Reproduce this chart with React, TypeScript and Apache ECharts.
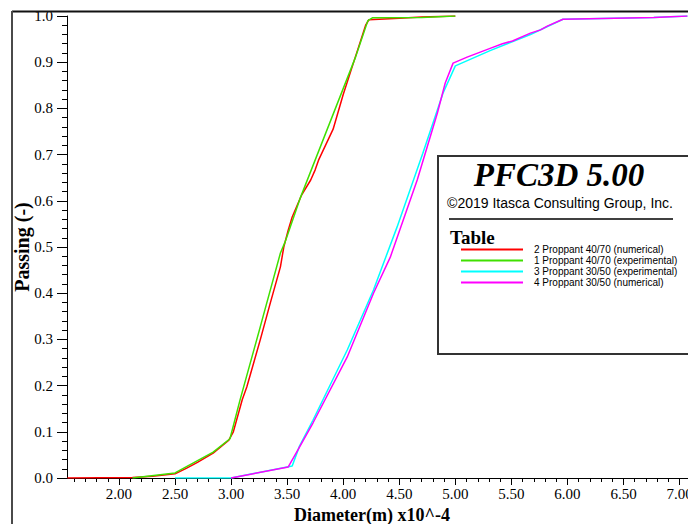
import React, { useEffect, useRef } from 'react';
import * as echarts from 'echarts';

// ---- data ----
const seriesNames = [
  '2 Proppant 40/70 (numerical)',
  '1 Proppant 40/70 (experimental)',
  '3 Proppant 30/50 (experimental)',
  '4 Proppant 30/50 (numerical)',
];
const seriesColors = ['#ff0000', '#40e000', '#00ffff', '#ff00ff'];

const proppant4070Numerical: [number, number][] = [
  [1.54, 0.0], [2.12, 0.001], [2.3, 0.004], [2.5, 0.009], [2.6, 0.021], [2.7, 0.034],
  [2.84, 0.054], [2.98, 0.082], [3.02, 0.1], [3.1, 0.17], [3.14, 0.197], [3.26, 0.299],
  [3.35, 0.379], [3.44, 0.457], [3.47, 0.5], [3.51, 0.537], [3.545, 0.565], [3.63, 0.613],
  [3.71, 0.645], [3.75, 0.667], [3.78, 0.688], [3.91, 0.755], [4.0, 0.83], [4.1, 0.905],
  [4.2, 0.98], [4.23, 0.992], [4.5, 0.995], [4.7, 0.998], [5.0, 1.0],
];
const proppant4070Experimental: [number, number][] = [
  [2.12, 0.0], [2.5, 0.011], [2.84, 0.056], [2.99, 0.085], [3.08, 0.169], [3.26, 0.327],
  [3.44, 0.487], [3.48, 0.51], [3.62, 0.608], [4.11, 0.911], [4.22, 0.99], [4.26, 0.996],
  [4.7, 0.997], [5.0, 1.0],
];
const proppant3050Experimental: [number, number][] = [
  [2.5, 0.0], [3.0, 0.0], [3.545, 0.026], [3.61, 0.069], [3.73, 0.125], [4.036, 0.277],
  [4.27, 0.407], [4.48, 0.543], [4.71, 0.703], [4.89, 0.833], [5.0, 0.892], [5.31, 0.925],
  [5.67, 0.96], [5.96, 0.993], [6.77, 0.997], [7.07, 1.0],
];
const proppant3050Numerical: [number, number][] = [
  [3.0, 0.0], [3.51, 0.024], [3.61, 0.067], [3.73, 0.119], [4.036, 0.262], [4.27, 0.4],
  [4.42, 0.478], [4.66, 0.645], [4.84, 0.79], [4.91, 0.855], [4.98, 0.898], [5.105, 0.911],
  [5.31, 0.93], [5.42, 0.94], [5.51, 0.946], [5.67, 0.963], [5.76, 0.97], [5.82, 0.978],
  [5.96, 0.993], [6.77, 0.997], [7.07, 1.0],
];
const seriesData = [
  proppant4070Numerical,
  proppant4070Experimental,
  proppant3050Experimental,
  proppant3050Numerical,
];

const xMajorTicks = [2.0, 2.5, 3.0, 3.5, 4.0, 4.5, 5.0, 5.5, 6.0, 6.5, 7.0];
const xMinorTicks = [
  1.6, 1.7, 1.8, 1.9, 2.0, 2.1, 2.2, 2.3, 2.4, 2.5, 2.6, 2.7, 2.8, 2.9, 3.0, 3.1, 3.2, 3.3,
  3.4, 3.5, 3.6, 3.7, 3.8, 3.9, 4.0, 4.1, 4.2, 4.3, 4.4, 4.5, 4.6, 4.7, 4.8, 4.9, 5.0, 5.1,
  5.2, 5.3, 5.4, 5.5, 5.6, 5.7, 5.8, 5.9, 6.0, 6.1, 6.2, 6.3, 6.4, 6.5, 6.6, 6.7, 6.8, 6.9,
  7.0, 7.1,
];
const xMin = 1.5365;
const xMax = 7.2;
const yMin = 0;
const yMax = 1;
const yStep = 0.1;

const titleText = 'PFC3D 5.00';
const copyrightText = '\u00a92019 Itasca Consulting Group, Inc.';
const tableText = 'Table';
const xAxisTitle = 'Diameter(m) x10^-4';
const yAxisTitle = 'Passing (-)';

const SERIF = '"Liberation Serif", "Times New Roman", serif';
const SANS = '"Liberation Sans", Arial, sans-serif';

export default function App() {
  const ref = useRef<HTMLDivElement>(null);

  useEffect(() => {
    if (!ref.current) return;
    const chart = echarts.init(ref.current, undefined, { renderer: 'svg' });
    const option: any = {
      animation: false,
      backgroundColor: '#ffffff',
      grid: {
        left: 67,
        top: 16,
        width: 635,
        height: 462,
        containLabel: false,
        outerBoundsMode: 'none',
      },
      xAxis: [
        {
          type: 'value',
          min: xMin,
          max: xMax,
          position: 'bottom',
          name: xAxisTitle,
          nameLocation: 'middle',
          nameGap: 27,
          nameTextStyle: {
            fontFamily: SERIF,
            fontWeight: 'bold',
            fontSize: 18,
            color: '#000',
            padding: [0, 25, 0, 0],
          },
          axisLine: { show: true, lineStyle: { color: '#000', width: 1 } },
          axisTick: { show: true, length: 7, customValues: xMajorTicks, lineStyle: { color: '#000' } },
          axisLabel: {
            show: true,
            customValues: xMajorTicks,
            formatter: (v: number) => v.toFixed(2),
            fontFamily: SERIF,
            fontSize: 15,
            color: '#000',
            margin: 8,
          },
          splitLine: { show: false },
        },
        {
          type: 'value',
          min: xMin,
          max: xMax,
          position: 'bottom',
          axisLine: { show: false },
          axisTick: { show: true, length: 4, customValues: xMinorTicks, lineStyle: { color: '#000' } },
          axisLabel: { show: false },
          splitLine: { show: false },
        },
      ],
      yAxis: {
        type: 'value',
        min: yMin,
        max: yMax,
        interval: yStep,
        name: yAxisTitle,
        nameLocation: 'middle',
        nameGap: 35,
        nameMoveOverlap: false,
        nameTextStyle: { fontFamily: SERIF, fontWeight: 'bold', fontSize: 20, color: '#000' },
        axisLine: { show: true, lineStyle: { color: '#000', width: 1 } },
        axisTick: { show: true, length: 10, lineStyle: { color: '#000' } },
        minorTick: { show: true, splitNumber: 5, length: 5, lineStyle: { color: '#000' } },
        axisLabel: {
          formatter: (v: number) => v.toFixed(1),
          fontFamily: SERIF,
          fontSize: 15,
          color: '#000',
          margin: 14,
        },
        splitLine: { show: false },
        minorSplitLine: { show: false },
      },
      legend: {
        orient: 'vertical',
        left: 461,
        top: 244,
        padding: 0,
        itemGap: 0,
        itemWidth: 62,
        itemHeight: 2,
        icon: 'rect',
        z: 120,
        selectedMode: false,
        textStyle: {
          fontFamily: SANS,
          fontSize: 10,
          lineHeight: 11,
          color: '#000',
          padding: [0, 0, 0, 6],
        },
        data: seriesNames,
      },
      series: seriesNames.map((name, i) => ({
        name,
        type: 'line',
        xAxisIndex: 0,
        data: seriesData[i],
        showSymbol: false,
        symbol: 'none',
        color: seriesColors[i],
        lineStyle: { color: seriesColors[i], width: 1.5 },
        z: 2 + i,
      })),
      graphic: [
        {
          type: 'rect',
          z: 100,
          shape: { x: 438, y: 156, width: 262, height: 198 },
          style: { fill: '#ffffff', stroke: '#333333', lineWidth: 2 },
        },
        {
          type: 'text',
          z: 101,
          x: 559,
          y: 175,
          style: {
            text: titleText,
            fontFamily: SERIF,
            fontStyle: 'italic',
            fontWeight: 'bold',
            fontSize: 33,
            fill: '#000',
            align: 'center',
            verticalAlign: 'middle',
          },
        },
        {
          type: 'text',
          z: 101,
          x: 560,
          y: 203,
          style: {
            text: copyrightText,
            fontFamily: SANS,
            fontSize: 14,
            fill: '#000',
            align: 'center',
            verticalAlign: 'middle',
          },
        },
        {
          type: 'line',
          z: 101,
          shape: { x1: 449, y1: 219, x2: 673, y2: 219 },
          style: { stroke: '#000', lineWidth: 1.5 },
        },
        {
          type: 'text',
          z: 101,
          x: 450,
          y: 237,
          style: {
            text: tableText,
            fontFamily: SERIF,
            fontWeight: 'bold',
            fontSize: 19,
            fill: '#000',
            align: 'left',
            verticalAlign: 'middle',
          },
        },
        {
          type: 'line',
          z: 130,
          shape: { x1: 12, y1: 11.5, x2: 688, y2: 11.5 },
          style: { stroke: '#111', lineWidth: 2 },
        },
        {
          type: 'line',
          z: 130,
          shape: { x1: 12, y1: 11, x2: 12, y2: 524 },
          style: { stroke: '#4a4a4a', lineWidth: 2 },
        },
      ],
    };
    chart.setOption(option);
    return () => chart.dispose();
  }, []);

  return (
    <div
      ref={ref}
      style={{ position: 'fixed', left: 0, top: 0, width: 688, height: 524, background: '#fff' }}
    />
  );
}
